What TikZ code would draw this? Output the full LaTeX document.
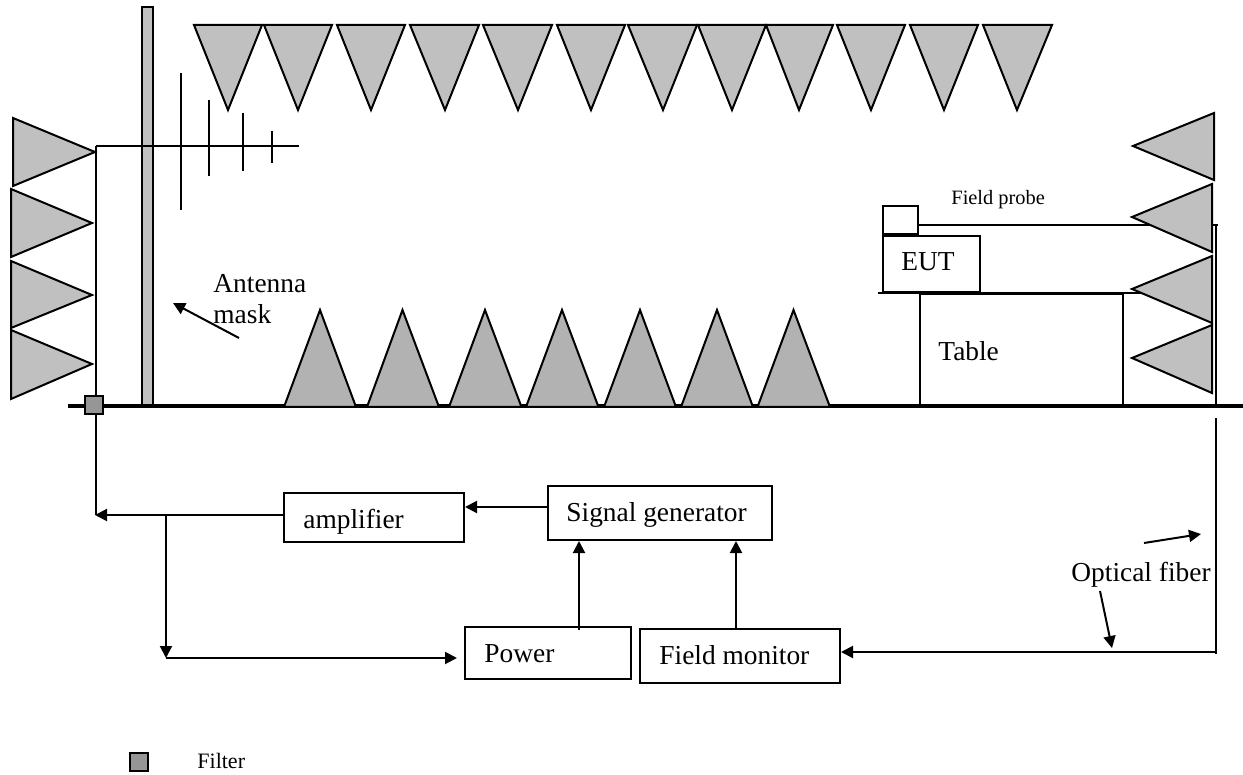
\documentclass[tikz,border=0pt]{standalone}
\usepackage{fontspec}
\setmainfont{Liberation Serif}
\usetikzlibrary{arrows.meta,positioning}
\tikzset{
  wire/.style={draw=black,line width=1pt},
  arr/.style={wire,-{Triangle[length=6pt,width=6pt]}},
  absorber/.style={draw=black,fill=absgray,line width=1pt,line join=miter},
  pyramid/.style={draw=black,fill=pyrgray,line width=1pt,line join=miter},
  boxn/.style={draw=black,line width=1pt,inner sep=0pt,fill=white,anchor=north west},
  big/.style={anchor=base west,inner sep=0pt,font=\fontsize{13.7}{15}\selectfont},
  small/.style={anchor=base west,inner sep=0pt,font=\fontsize{10.2}{12}\selectfont},
  filterbox/.style={draw=black,fill=filtgray,line width=1pt,inner sep=0pt,minimum width=9pt,minimum height=9pt,anchor=north west},
}
\definecolor{absgray}{HTML}{C0C0C0}
\definecolor{pyrgray}{HTML}{B2B2B2}
\definecolor{filtgray}{HTML}{969696}
\begin{document}
\begin{tikzpicture}[x=0.5pt,y=-0.5pt]
\useasboundingbox[fill=white] (0,0) rectangle (1243,775);
% mast
\draw[absorber] (142,7) rectangle (153,406);
% antenna
\coordinate (feedL) at (96,146);
\coordinate (feedR) at (299,146);
\draw[wire] (feedL) -- (feedR);
\draw[wire,line width=0.8pt] (181,73) -- (181,210);
\draw[wire,line width=0.8pt] (209,100) -- (209,176);
\draw[wire,line width=0.8pt] (243,113) -- (243,171);
\draw[wire,line width=0.8pt] (272,131) -- (272,163);
% blocks
\node[boxn,minimum width=90pt,minimum height=24.5pt] (amp) at (283,492) {};
\node[boxn,minimum width=112pt,minimum height=27pt] (sig) at (547,485) {};
\node[boxn,minimum width=83pt,minimum height=26pt] (pow) at (464,626) {};
\node[boxn,minimum width=100pt,minimum height=27pt] (mon) at (639,628) {};
\node[boxn,minimum width=101.5pt,minimum height=55.5pt] (table) at (919,293) {};
\node[boxn,minimum width=48.5pt,minimum height=28pt] (eut) at (882,235) {};
\node[boxn,minimum width=17.5pt,minimum height=14pt] (probe) at (882,205) {};
% table bottom
\draw[line width=1.7pt] (table.south west) -- (table.south east);
% table top, probe wire and fibre
\coordinate (tl) at (878,293);
\coordinate (tr) at (1150,293);
\draw[wire] (tl) -- (tr);
\coordinate (ptop) at (1216,225);
\coordinate (pstub) at (1218,225);
\draw[wire,line width=0.8pt] (probe.east |- ptop) -- (pstub);
\coordinate (gnd) at (1216,406);
\draw[wire] (ptop) -- (gnd);
% ground
\coordinate (g1) at (68,406);
\coordinate (g2) at (1243,406);
% left absorbers
\foreach \xa/\ya/\yb/\xc/\yc in {13/118/186/95/152,11/189/257/92/223,11/261/328/92/295,11/330/399/92/364}
  \draw[absorber] (\xa,\ya) -- (\xc,\yc) -- (\xa,\yb) -- cycle;
% right absorbers
\foreach \xa/\ya/\yb/\xc/\yc in {1214/113/180/1133/146,1212/184/252/1132/217,1212/256/323/1132/289,1212/325/393/1132/358}
  \draw[absorber] (\xa,\ya) -- (\xc,\yc) -- (\xa,\yb) -- cycle;
% top absorbers
\foreach \xa/\xb/\xc in {194/262/228,264/332/298,337/405/371,410/479/445,483/552/518,557/625/591,628/697/663,698/766/732,766/833/799,837/905/871,910/978/944,983/1052/1017}
  \draw[absorber] (\xa,25) -- (\xb,25) -- (\xc,110) -- cycle;
% bottom pyramids
\draw[line width=1.7pt] (g1) -- (g2);
\foreach \xa/\xb/\xc in {284/356/320,367/439/402.5,449/521.5/485,526/598.5/562,604/676/640,681/753/717,757.5/830/793.5}
  \draw[pyramid] (\xa,407) -- (\xb,407) -- (\xc,310) -- cycle;
% left feed
\coordinate (c1) at (96,515);
\draw[wire] (feedL) -- (96,395);
\node[filterbox] (filt) at (84,395) {};
\draw[wire] (filt.south -| feedL) -- (c1);
\draw[arr] (amp.west |- c1) -- (95,515);
\coordinate (c2) at (166,515);
\coordinate (c3) at (166,658);
\draw[arr] (c2) -- (c3);
\draw[arr] (c3) -- (457,658);
\coordinate (sigIn) at (465,507);
\draw[arr] (sig.west |- sigIn) -- (sigIn);
\coordinate (powTop) at (579,630);
\draw[arr] (powTop) -- (powTop |- sig.south);
\coordinate (monTop) at (736,628);
\draw[arr] (monTop) -- (monTop |- sig.south);
% fibre bottom
\coordinate (fb1) at (1216,418);
\coordinate (fb2) at (1216,654);
\draw[wire] (fb1) -- (fb2);
\coordinate (fb3) at (1216,652);
\draw[arr] (fb3) -- (mon.east |- fb3);
% pointers
\coordinate (p1a) at (1144,543); \coordinate (p1b) at (1201,534);
\draw[arr] (p1a) -- (p1b);
\coordinate (p2a) at (1100,591); \coordinate (p2b) at (1112,648);
\draw[arr] (p2a) -- (p2b);
\coordinate (p3a) at (239,338); \coordinate (p3b) at (173,303);
\draw[arr] (p3a) -- (p3b);
% labels
\node[big] (lant) at (213,293) {Antenna};
\node[big] (lmask) at (213,324) {mask};
\node[big] (lamp) at (303,528) {amplifier};
\node[big] (lsig) at (566,521) {Signal generator};
\node[big] (lpow) at (484,662) {Power};
\node[big] (lmon) at (659,664) {Field monitor};
\node[big] (lfib) at (1071,581) {Optical fiber};
\node[big] (leut) at (901,271) {EUT};
\node[big] (ltab) at (938,361) {Table};
\node[small] (lprobe) at (951,205) {Field probe};
% legend
\node[filterbox] (legend) at (129,752) {};
\node[anchor=base west,inner sep=0pt,font=\fontsize{11}{12}\selectfont] (lfilter) at (197,768) {Filter};
\end{tikzpicture}
\end{document}
